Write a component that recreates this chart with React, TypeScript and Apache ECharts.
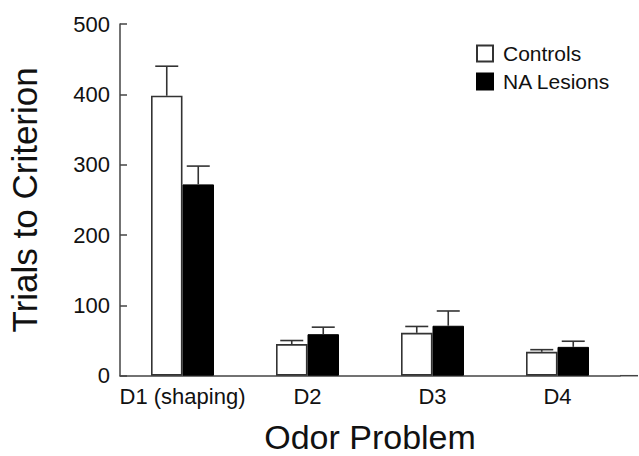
import React, { useEffect, useRef } from "react";
import * as echarts from "echarts";

const categories = ["D1 (shaping)", "D2", "D3", "D4"];
const controlsMean = [398, 45, 61, 34];
const controlsErr = [42, 5, 9, 3];
const lesionMean = [272, 59, 71, 41];
const lesionErr = [26, 10, 21, 8];
const yTicks = { min: 0, max: 500, interval: 100 };

const FONT = "Liberation Sans, Arial, sans-serif";
const BAR_W = 31.5;

export default function App() {
  const ref = useRef<HTMLDivElement>(null);
  useEffect(() => {
    if (!ref.current) return;
    document.body.style.margin = "0";
    const chart = echarts.init(ref.current, undefined, { renderer: "svg" });
    const errData = (means: number[], errs: number[]) =>
      means.map((m, i) => [i, m, errs[i]]);
    const errSeries = (name: string, means: number[], errs: number[], side: number) => ({
      type: "custom",
      name,
      silent: true,
      z: 5,
      data: errData(means, errs),
      encode: { x: 0, y: 1 },
      renderItem: (params: any, api: any) => {
        const i = api.value(0);
        const m = api.value(1);
        const e = api.value(2);
        const p0 = api.coord([i, m]);
        const p1 = api.coord([i, m + e]);
        const x = p0[0] + side * BAR_W / 2;
        const cap = 11.5;
        const style = { stroke: "#333", lineWidth: 1.6, fill: "none" };
        return {
          type: "group",
          children: [
            { type: "line", shape: { x1: x, y1: p0[1], x2: x, y2: p1[1] }, style },
            { type: "line", shape: { x1: x - cap, y1: p1[1], x2: x + cap, y2: p1[1] }, style },
          ],
        };
      },
    });
    chart.setOption({
      animation: false,
      backgroundColor: "#fff",
      textStyle: { fontFamily: FONT },
      grid: {
        left: 120,
        top: 24,
        width: 500,
        bottom: 80.3,
        containLabel: false,
        outerBoundsMode: "none",
      },
      legend: {
        orient: "vertical",
        left: 476,
        top: 43,
        padding: 0,
        itemWidth: 16,
        itemHeight: 16,
        itemGap: 7,
        icon: "rect",
        data: ["Controls", "NA Lesions"],
        textStyle: { fontSize: 21, color: "#111", fontFamily: FONT, padding: [0, 0, 0, 5] },
      },
      xAxis: {
        type: "category",
        data: categories,
        name: "Odor Problem",
        nameLocation: "middle",
        nameGap: 44,
        nameTextStyle: { fontSize: 34, color: "#111", fontFamily: FONT, lineHeight: 34 },
        axisLine: { lineStyle: { color: "#444", width: 1.5 } },
        axisTick: { show: false },
        axisLabel: { fontSize: 22, color: "#111", margin: 10, interval: 0, fontFamily: FONT },
      },
      yAxis: {
        type: "value",
        min: yTicks.min,
        max: yTicks.max,
        interval: yTicks.interval,
        name: "Trials to Criterion",
        nameLocation: "middle",
        nameGap: 78,
        nameTextStyle: { fontSize: 35, color: "#111", fontFamily: FONT },
        splitLine: { show: false },
        axisLine: { show: true, lineStyle: { color: "#444", width: 1.5 } },
        axisTick: { show: true, inside: true, length: 7, lineStyle: { color: "#444", width: 1.5 } },
        axisLabel: { fontSize: 22, color: "#111", margin: 10, fontFamily: FONT },
      },
      graphic: [
        {
          type: "line",
          shape: { x1: 620, y1: 375.7, x2: 638, y2: 375.7 },
          style: { stroke: "#444", lineWidth: 1.5 },
        },
      ],
      series: [
        {
          type: "bar",
          name: "Controls",
          data: controlsMean,
          barWidth: BAR_W,
          barGap: "0%",
          itemStyle: { color: "#fff", borderColor: "#333", borderWidth: 1.6 },
        },
        {
          type: "bar",
          name: "NA Lesions",
          data: lesionMean,
          barWidth: BAR_W,
          barGap: "0%",
          itemStyle: { color: "#000", borderColor: "#000", borderWidth: 1 },
        },
        errSeries("Controls err", controlsMean, controlsErr, -1),
        errSeries("NA Lesions err", lesionMean, lesionErr, 1),
      ],
    });
    return () => chart.dispose();
  }, []);
  return <div ref={ref} style={{ width: 639, height: 456 }} />;
}
